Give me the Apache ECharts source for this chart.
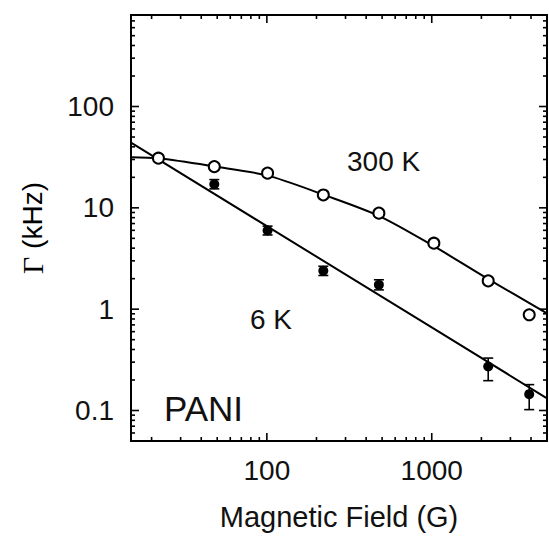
<!DOCTYPE html>
<html>
<head>
<meta charset="utf-8">
<script src="https://cdn.jsdelivr.net/npm/echarts@6/dist/echarts.min.js"></script>
<style>
html,body{margin:0;padding:0;background:#fff;}
#chart{width:549px;height:536px;}
</style>
</head>
<body>
<div id="chart"></div>
<script>
// ---- data ----
const field300K = [22, 48, 101, 220, 478, 1030, 2200, 3900];
const gamma300K = [30.9, 25.5, 22.0, 13.4, 8.86, 4.48, 1.90, 0.88];

const field6K = [48, 101, 220, 478, 2200, 3900];
const gamma6K = [17.1, 5.97, 2.39, 1.74, 0.272, 0.145];
const gamma6KLow = [15.4, 5.4, 2.15, 1.55, 0.197, 0.102];
const gamma6KHigh = [19.0, 6.6, 2.65, 1.95, 0.329, 0.180];

// fitted curves
const fit300KField = [15, 22, 48, 100, 220, 480, 1000, 2200, 5000];
const fit300KGamma = [31.6, 30.8, 25.6, 20.9, 13.5, 8.3, 4.3, 1.98, 0.91];
const fit6KField = [15, 100, 1000, 5000];
const fit6KGamma = [44, 6.6, 0.66, 0.132];

// axes
const xRange = [15, 5000];
const yRange = [0.05, 800];
const xMajorTicks = [100, 1000];
const xTickLabels = ['100', '1000'];
const xMinorTicks = [20, 30, 40, 50, 60, 70, 80, 90, 200, 300, 400, 500, 600, 700, 800, 900, 2000, 3000, 4000];
const yMajorTicks = [0.1, 1, 10, 100];
const yTickLabels = ['0.1', '1', '10', '100'];
const yMinorTicks = [0.06, 0.07, 0.08, 0.09, 0.2, 0.3, 0.4, 0.5, 0.6, 0.7, 0.8, 0.9,
  2, 3, 4, 5, 6, 7, 8, 9, 20, 30, 40, 50, 60, 70, 80, 90, 200, 300, 400, 500, 600, 700];

const xTitle = 'Magnetic Field (G)';
const curveLabels = ['300 K', '6 K', 'PANI'];

// ---- chart ----
const FONT = '"Liberation Sans", Arial, sans-serif';
const INK = '#111';
const GRID = { left: 131, right: 2, top: 15, bottom: 95 };
const MAJOR_LEN = 8, MINOR_LEN = 4, TICK_W = 1.6;

function pairs(xs, ys) { return xs.map((x, i) => [x, ys[i]]); }

function labelFor(v, majors, labels) {
  for (let i = 0; i < majors.length; i++) {
    if (Math.abs(Math.log10(v) - Math.log10(majors[i])) < 1e-6) return labels[i];
  }
  return '';
}

function seg(x1, y1, x2, y2) {
  return { type: 'line', shape: { x1: x1, y1: y1, x2: x2, y2: y2 }, style: { stroke: '#000', lineWidth: TICK_W } };
}

const textGraphics = [
  { type: 'text', left: 347, top: 147, style: { text: curveLabels[0], font: '28px ' + FONT, fill: INK } },
  { type: 'text', left: 250, top: 305, style: { text: curveLabels[1], font: '28px ' + FONT, fill: INK } },
  { type: 'text', left: 164, top: 391, style: { text: curveLabels[2], font: '35px ' + FONT, fill: INK } }
];

const dom = document.getElementById('chart');
const chart = echarts.init(dom, null, { renderer: 'svg' });

chart.setOption({
  animation: false,
  backgroundColor: '#fff',
  grid: { left: GRID.left, right: GRID.right, top: GRID.top, bottom: GRID.bottom, show: true, borderColor: '#000', borderWidth: 2, backgroundColor: 'transparent' },
  xAxis: {
    type: 'log', logBase: 10, min: xRange[0], max: xRange[1],
    axisLine: { show: true, lineStyle: { color: '#000', width: 2 } },
    axisTick: { show: false },
    splitLine: { show: false },
    axisLabel: {
      color: INK, fontFamily: FONT, fontSize: 28, margin: 15,
      showMinLabel: false, showMaxLabel: false,
      formatter: v => labelFor(v, xMajorTicks, xTickLabels)
    },
    name: xTitle, nameLocation: 'middle', nameGap: 61,
    nameTextStyle: { color: INK, fontFamily: FONT, fontSize: 29 }
  },
  yAxis: {
    type: 'log', logBase: 10, min: yRange[0], max: yRange[1],
    axisLine: { show: true, lineStyle: { color: '#000', width: 2 } },
    axisTick: { show: false },
    splitLine: { show: false },
    axisLabel: {
      color: INK, fontFamily: FONT, fontSize: 28, margin: 17,
      showMinLabel: false, showMaxLabel: false,
      formatter: v => labelFor(v, yMajorTicks, yTickLabels)
    },
    name: '{g|Γ}{n| (kHz)}', nameLocation: 'middle', nameGap: 84,
    nameTextStyle: {
      color: '#000', fontFamily: FONT, fontSize: 28,
      rich: {
        g: { fontFamily: '"Liberation Serif", "DejaVu Serif", serif', fontSize: 30, color: '#000' },
        n: { fontFamily: FONT, fontSize: 28, color: '#000' }
      }
    }
  },
  graphic: textGraphics,
  series: [
    {
      name: 'fit 300 K', type: 'line', data: pairs(fit300KField, fit300KGamma),
      showSymbol: false, smooth: 0.3, z: 2,
      lineStyle: { color: '#000', width: 2 }
    },
    {
      name: 'fit 6 K', type: 'line', data: pairs(fit6KField, fit6KGamma),
      showSymbol: false, z: 2,
      lineStyle: { color: '#000', width: 2 }
    },
    {
      name: '6 K error', type: 'custom', z: 3,
      encode: { x: 0, y: [1, 2] },
      data: field6K.map((x, i) => [x, gamma6KLow[i], gamma6KHigh[i]]),
      renderItem: (params, api) => {
        const lo = api.coord([api.value(0), api.value(1)]);
        const hi = api.coord([api.value(0), api.value(2)]);
        const w = 5;
        return { type: 'group', children: [
          seg(lo[0], lo[1], hi[0], hi[1]),
          seg(lo[0] - w, lo[1], lo[0] + w, lo[1]),
          seg(hi[0] - w, hi[1], hi[0] + w, hi[1])
        ] };
      }
    },
    {
      name: '6 K', type: 'scatter', data: pairs(field6K, gamma6K), z: 4,
      symbol: 'circle', symbolSize: 10,
      itemStyle: { color: '#000', opacity: 1 }
    },
    {
      name: '300 K', type: 'scatter', data: pairs(field300K, gamma300K), z: 4,
      symbol: 'circle', symbolSize: 11,
      itemStyle: { color: '#fff', borderColor: '#000', borderWidth: 2, opacity: 1 }
    }
  ]
});

// ---- frame ticks: positions come from the chart's own axis scales ----
(function addFrameTicks() {
  let left = GRID.left, top = GRID.top;
  let right = dom.clientWidth - GRID.right, bottom = dom.clientHeight - GRID.bottom;
  try {
    const rect = chart.getModel().getComponent('grid', 0).coordinateSystem.getRect();
    if (rect && isFinite(rect.x) && isFinite(rect.width)) {
      left = rect.x; top = rect.y; right = rect.x + rect.width; bottom = rect.y + rect.height;
    }
  } catch (e) { /* keep layout values */ }

  const ticks = [];
  const addX = (v, len) => {
    const p = chart.convertToPixel({ gridIndex: 0 }, [v, 1]);
    if (!p || !isFinite(p[0])) return;
    ticks.push(seg(p[0], bottom, p[0], bottom - len));
    ticks.push(seg(p[0], top, p[0], top + len));
  };
  const addY = (v, len) => {
    const p = chart.convertToPixel({ gridIndex: 0 }, [100, v]);
    if (!p || !isFinite(p[1])) return;
    ticks.push(seg(left, p[1], left + len, p[1]));
    ticks.push(seg(right, p[1], right - len, p[1]));
  };
  xMajorTicks.forEach(v => addX(v, MAJOR_LEN));
  xMinorTicks.forEach(v => addX(v, MINOR_LEN));
  yMajorTicks.forEach(v => addY(v, MAJOR_LEN));
  yMinorTicks.forEach(v => addY(v, MINOR_LEN));
  ticks.forEach(t => { t.z = 50; t.silent = true; });

  chart.setOption({ graphic: textGraphics.concat(ticks) });
})();
</script>
</body>
</html>
